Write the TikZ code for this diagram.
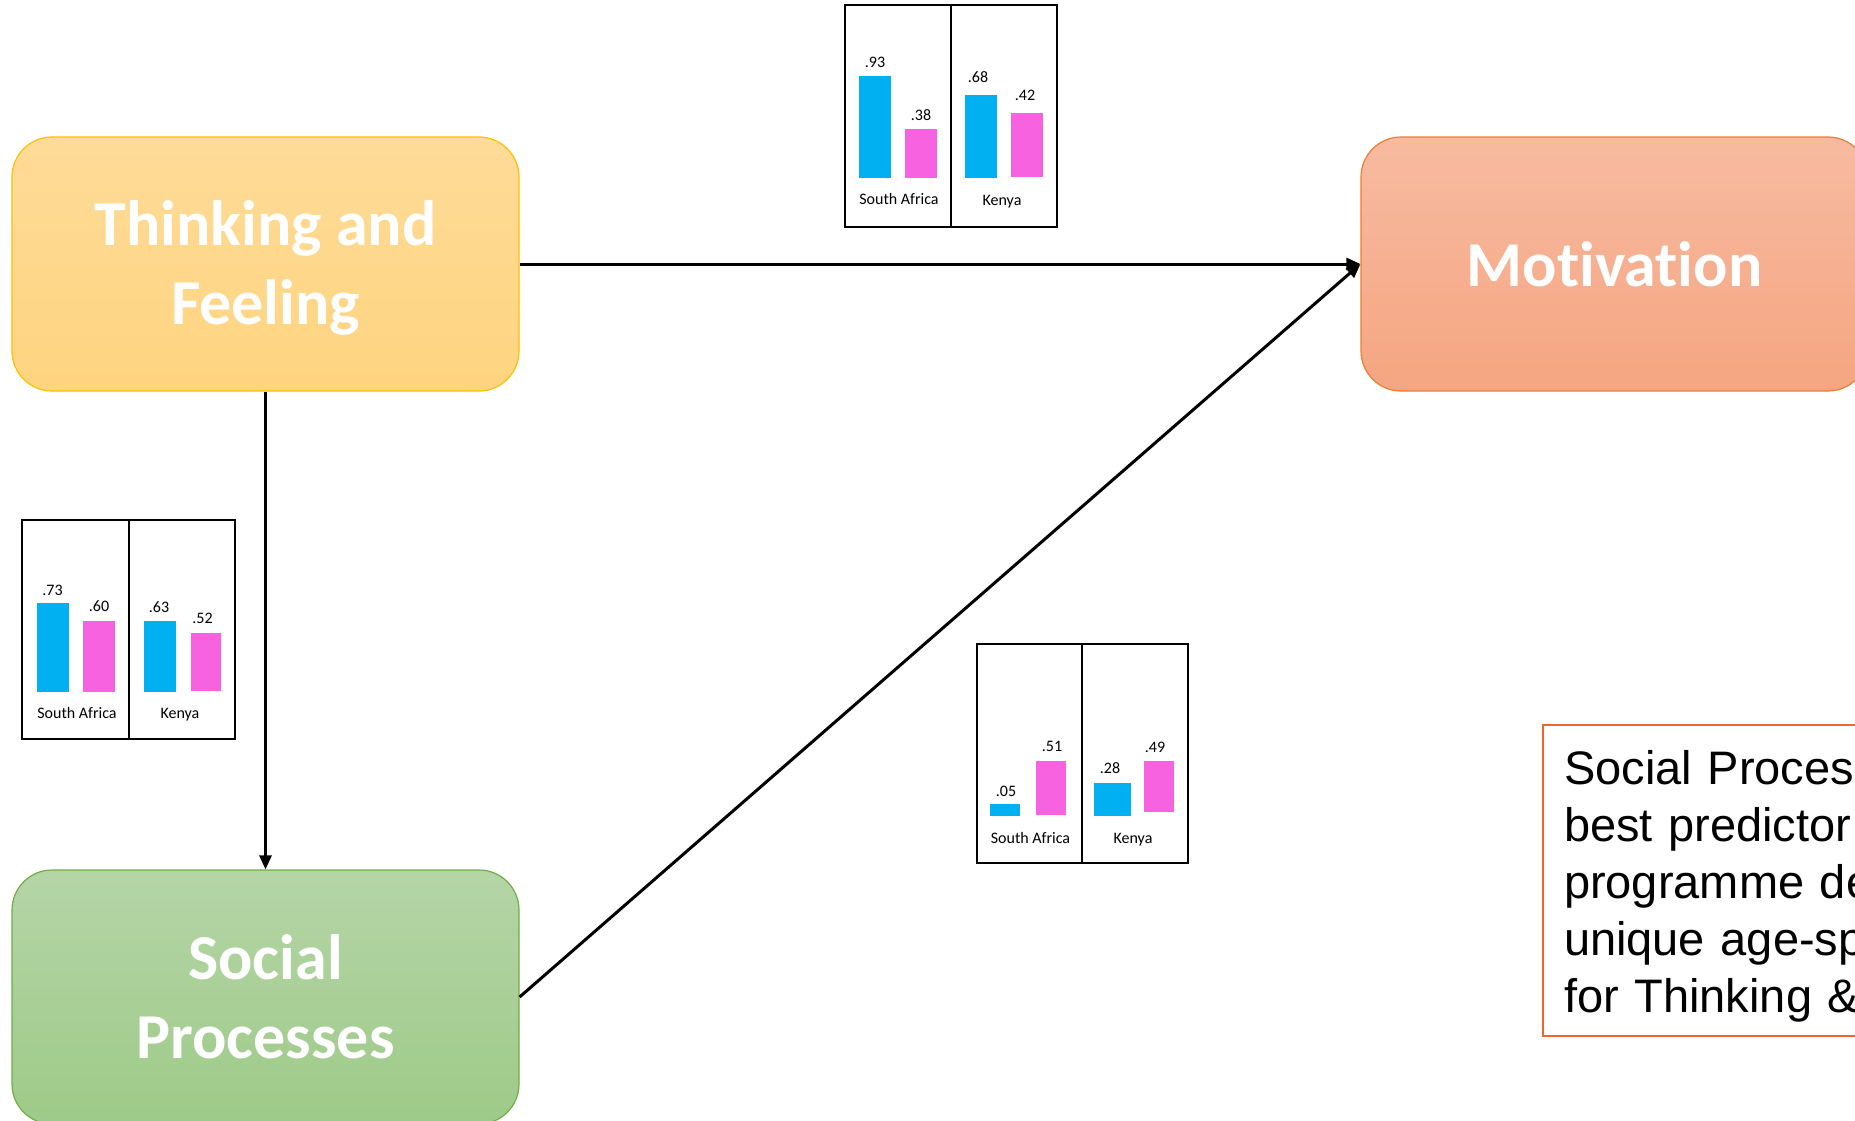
\documentclass[tikz,border=0pt]{standalone}
\usepackage{fontspec}
\setmainfont{Carlito}[Ligatures=NoCommon]
\newfontfamily\arialfont{Liberation Sans}
\usetikzlibrary{arrows.meta}
\definecolor{tftop}{HTML}{FEDB98}
\definecolor{tfbot}{HTML}{FED47F}
\definecolor{tfline}{HTML}{FFC000}
\definecolor{mvtop}{HTML}{F7BBA1}
\definecolor{mvbot}{HTML}{F5A581}
\definecolor{mvline}{HTML}{ED7D31}
\definecolor{sptop}{HTML}{B5D5A7}
\definecolor{spbot}{HTML}{9ECA88}
\definecolor{spline}{HTML}{70AD47}
\definecolor{barblue}{HTML}{00B0F0}
\definecolor{barpink}{HTML}{F662E0}
\definecolor{noteline}{HTML}{F0652F}
\tikzset{
  bigbox/.style={rounded corners=40pt, minimum width=507pt, minimum height=254pt,
    line width=1.2pt, text=white, align=center, inner sep=0pt,
    font=\bfseries\fontsize{64}{79}\selectfont},
  arr/.style={line width=3pt, -{Triangle[length=14pt,width=12pt]}},
  panel/.style={draw=black, line width=2.5pt},
  bblue/.style={fill=barblue},
  bpink/.style={fill=barpink},
  lbl/.style={inner sep=0pt, font=\fontsize{16}{18}\selectfont},
}
\begin{document}
\begin{tikzpicture}[x=1pt,y=-1pt]
\useasboundingbox (0,0) rectangle (1855,1120);
\fill[white] (0,0) rectangle (1855,1120);

% main boxes
\node[bigbox, draw=tfline, top color=tftop, bottom color=tfbot] (tf) at (265.5,264) {\rule{0pt}{52pt}Thinking and\\Feeling};
\node[bigbox, draw=mvline, top color=mvtop, bottom color=mvbot] (mv) at (1614.5,264) {Motivation};
\node[bigbox, draw=spline, top color=sptop, bottom color=spbot] (sp) at (265.5,997) {Social\\Processes};

% connectors
\draw[arr] (tf.east) -- (mv.west);
\draw[arr] (tf.south) -- (sp.north);
\draw[arr] (sp.east) -- (mv.west);

% chart 1 (top)
\fill[bblue] (859,76) rectangle (891,178);
\fill[bpink] (905,129) rectangle (937,178);
\fill[bblue] (965,95) rectangle (997,178);
\fill[bpink] (1011,113) rectangle (1043,177);
\draw[panel] (845,5) rectangle (951,227);
\draw[panel] (951,5) rectangle (1057,227);
\node[lbl] (c1a) at (875,62) {.93};
\node[lbl] (c1b) at (921,115) {.38};
\node[lbl] (c1c) at (978,77) {.68};
\node[lbl] (c1d) at (1025,95) {.42};
\node[lbl] (c1e) at (899,199) {South Africa};
\node[lbl] (c1f) at (1002,202) {Kenya};

% chart 2 (left)
\fill[bblue] (37,603) rectangle (69,692);
\fill[bpink] (83,621) rectangle (115,692);
\fill[bblue] (144,621) rectangle (176,692);
\fill[bpink] (191,633) rectangle (221,691);
\draw[panel] (22,520) rectangle (129,739);
\draw[panel] (129,520) rectangle (235,739);
\node[lbl] (c2a) at (52.5,590) {.73};
\node[lbl] (c2b) at (99,606) {.60};
\node[lbl] (c2c) at (159,607) {.63};
\node[lbl] (c2d) at (202.5,618) {.52};
\node[lbl] (c2e) at (77,713) {South Africa};
\node[lbl] (c2f) at (180,715) {Kenya};

% chart 3 (middle)
\fill[bblue] (990,804) rectangle (1020,816);
\fill[bpink] (1036,761) rectangle (1066,815);
\fill[bblue] (1094,783) rectangle (1131,816);
\fill[bpink] (1144,761) rectangle (1174,812);
\draw[panel] (977,644) rectangle (1082,863);
\draw[panel] (1082,644) rectangle (1188,863);
\node[lbl] (c3a) at (1006,791) {.05};
\node[lbl] (c3b) at (1052,746) {.51};
\node[lbl] (c3c) at (1110,768) {.28};
\node[lbl] (c3d) at (1155,747) {.49};
\node[lbl] (c3e) at (1030.5,838) {South Africa};
\node[lbl] (c3f) at (1133,840) {Kenya};

% note box
\node[draw=noteline, line width=2pt, anchor=north west, inner xsep=21pt, inner ysep=0pt,
  minimum height=311pt, text width=340pt, align=left,
  font=\arialfont\fontsize{47}{57}\selectfont] (note) at (1542,724)
  {\rule{0pt}{45pt}Social Proces\\best predictor\\programme de\\unique age-sp\\for Thinking \&};
\end{tikzpicture}
\end{document}
